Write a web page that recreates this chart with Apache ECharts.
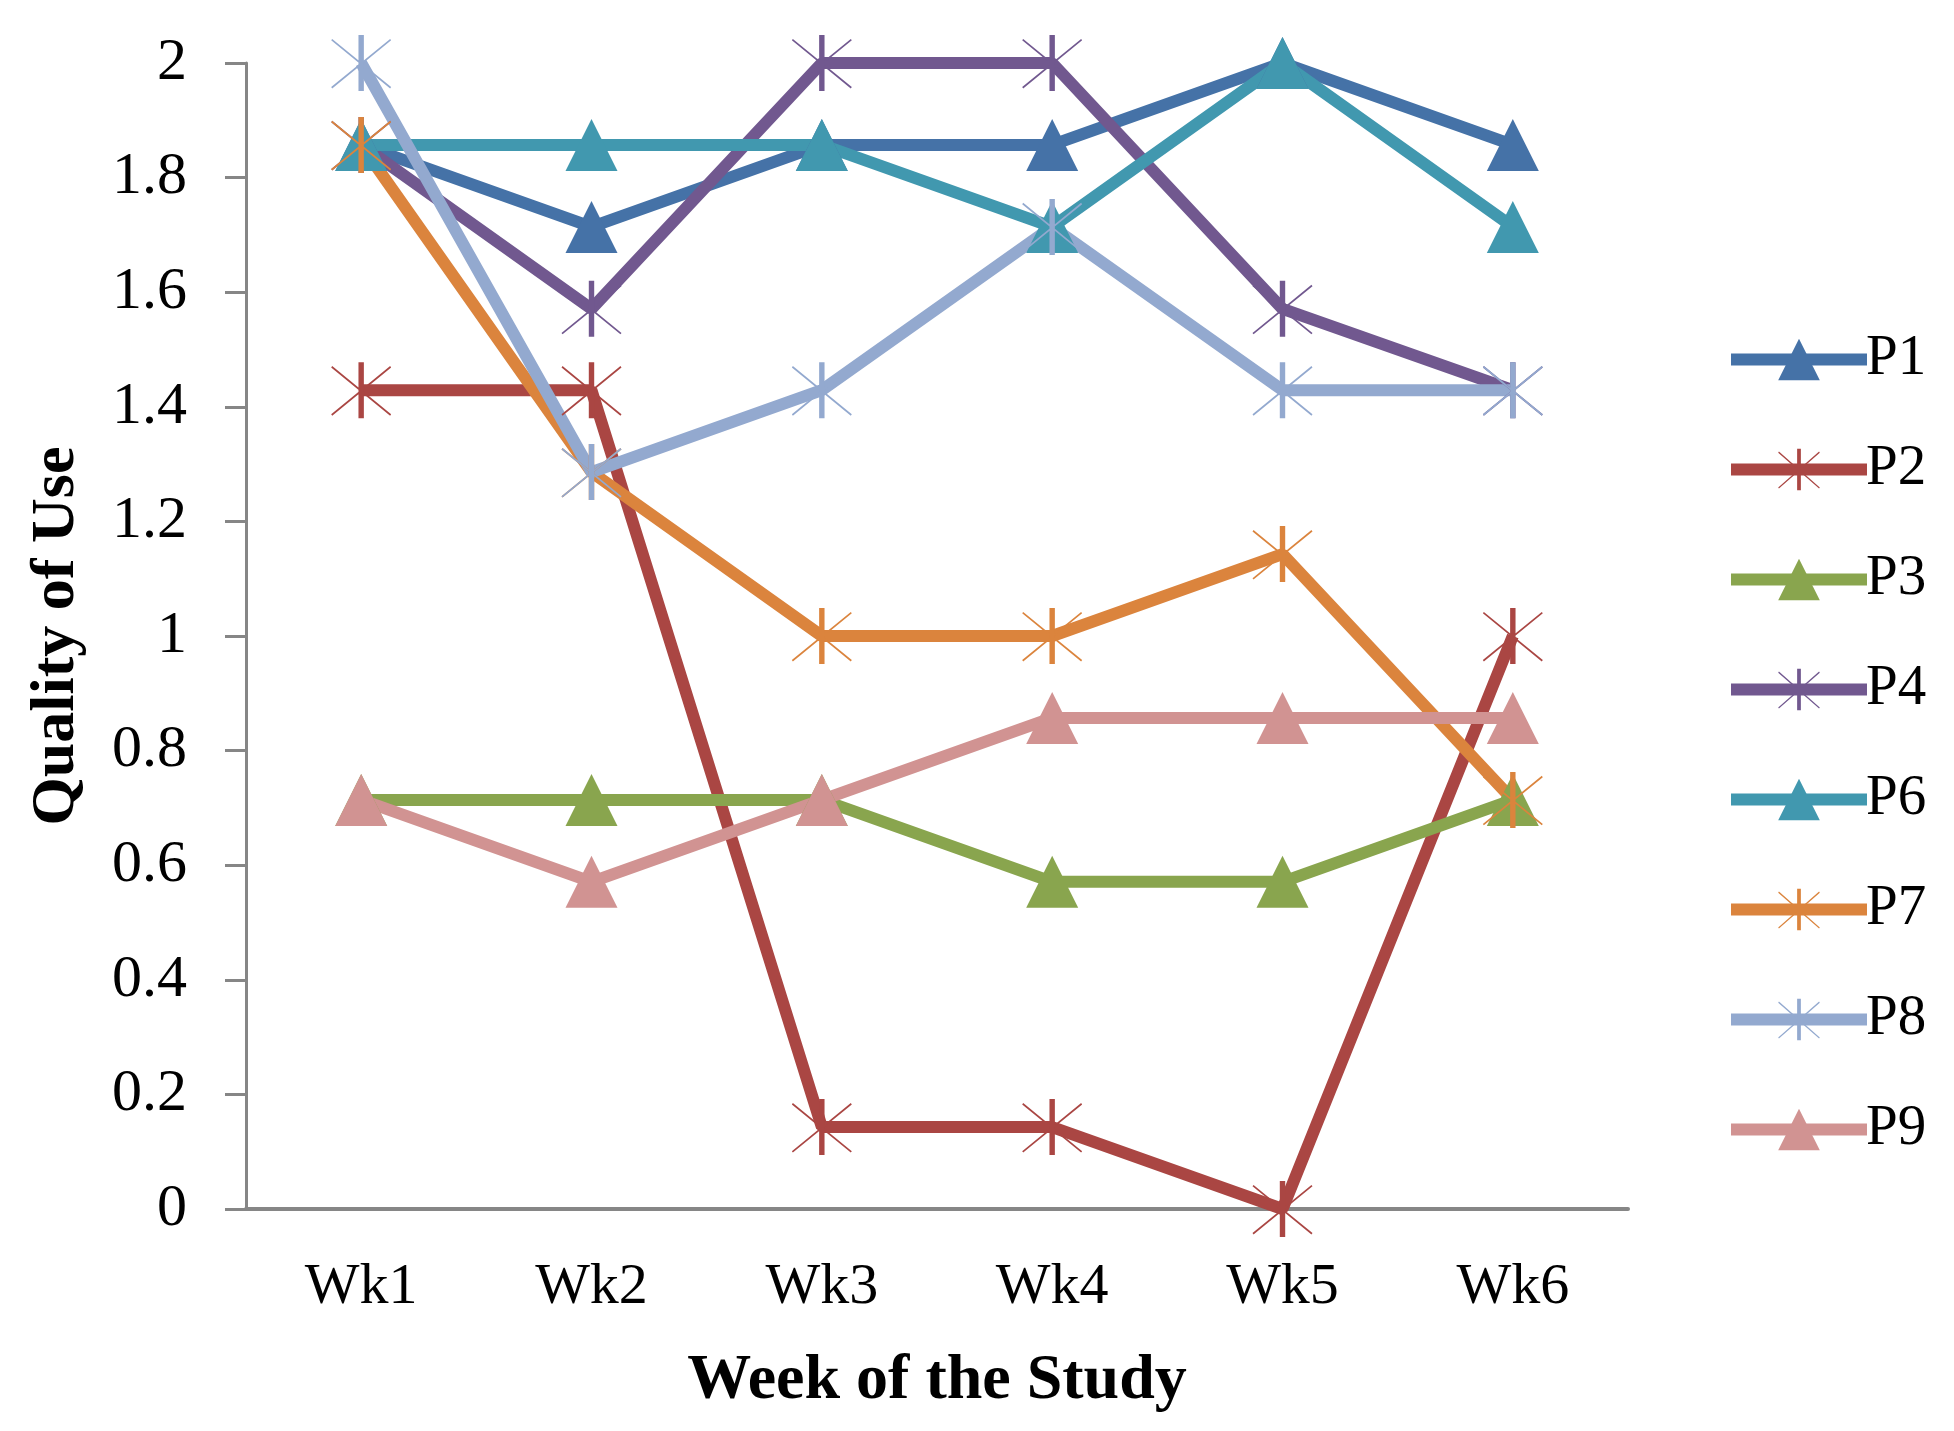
<!DOCTYPE html>
<html>
<head>
<meta charset="utf-8">
<script src="https://cdn.jsdelivr.net/npm/echarts@6/dist/echarts.min.js"></script>
<style>
  html, body { margin: 0; padding: 0; background: #fff; }
  #main { width: 1954px; height: 1431px; }
</style>
</head>
<body>
<div id="main"></div>
<script>
// weeks on x axis
var weeks = ['Wk1', 'Wk2', 'Wk3', 'Wk4', 'Wk5', 'Wk6'];
var names = ['P1', 'P2', 'P3', 'P4', 'P6', 'P7', 'P8', 'P9'];

// quality of use per participant (steps of 1/7)
var p1 = [1.857, 1.714, 1.857, 1.857, 2.000, 1.857];
var p2 = [1.429, 1.429, 0.143, 0.143, 0.000, 1.000];
var p3 = [0.714, 0.714, 0.714, 0.571, 0.571, 0.714];
var p4 = [1.857, 1.571, 2.000, 2.000, 1.571, 1.429];
var p6 = [1.857, 1.857, 1.857, 1.714, 2.000, 1.714];
var p7 = [1.857, 1.286, 1.000, 1.000, 1.143, 0.714];
var p8 = [2.000, 1.286, 1.429, 1.714, 1.429, 1.429];
var p9 = [0.714, 0.571, 0.714, 0.857, 0.857, 0.857];

var colors = ['#4572A7', '#AA4643', '#89A54E', '#71588F', '#4198AF', '#DB843D', '#93A9CF', '#D19392'];
// triangle or star marker per series
var marks = ['tri', 'star', 'tri', 'star', 'tri', 'star', 'star', 'tri'];

// asterisk: thick vertical bar + two thin diagonals
var starPath = 'path://M9.1,0L10.9,0L10.9,20L9.1,20Z' +
  'M0.35,1.4L20,18.6L19.65,19.1L0,1.9Z' +
  'M20,1.9L0.35,19.1L0,18.6L19.65,1.4Z';

var serif = '"Liberation Serif", "DejaVu Serif", serif';

var allData = [p1, p2, p3, p4, p6, p7, p8, p9];
var series = [];
for (var i = 0; i < names.length; i++) {
  var isStar = marks[i] == 'star';
  series.push({
    name: names[i],
    type: 'line',
    data: allData[i],
    symbol: isStar ? starPath : 'triangle',
    symbolSize: isStar ? [60, 56] : 52,
    showAllSymbol: true,
    lineStyle: { width: 12, color: colors[i] },
    itemStyle: { color: colors[i] },
    emphasis: { disabled: true },
    animation: false
  });
}

var chart = echarts.init(document.getElementById('main'));
chart.setOption({
  backgroundColor: '#fff',
  grid: { left: 246, right: 326, top: 63, bottom: 222, outerBoundsMode: 'none' },
  legend: {
    orient: 'vertical',
    left: 1720,
    top: 326,
    itemWidth: 136,
    itemHeight: 52,
    itemGap: 53,
    data: names,
    lineStyle: { width: 12 },
    textStyle: { fontFamily: serif, fontSize: 57, color: '#000', padding: [0, 0, 0, -6] }
  },
  xAxis: {
    type: 'category',
    data: weeks,
    boundaryGap: true,
    name: 'Week of the Study',
    nameLocation: 'middle',
    nameGap: 140,
    nameTextStyle: { fontFamily: serif, fontSize: 64, fontWeight: 'bold', color: '#000' },
    axisLine: { lineStyle: { color: '#868686', width: 4 } },
    axisTick: { show: false },
    axisLabel: { fontFamily: serif, fontSize: 58, color: '#000', margin: 50 }
  },
  yAxis: {
    type: 'value',
    min: 0,
    max: 2,
    interval: 0.2,
    name: 'Quality of Use',
    nameLocation: 'middle',
    nameGap: 158,
    nameRotate: 90,
    nameTextStyle: { fontFamily: serif, fontSize: 62, fontWeight: 'bold', color: '#000' },
    axisLine: { show: true, lineStyle: { color: '#868686', width: 3 } },
    axisTick: { show: true, length: 21, lineStyle: { color: '#868686', width: 3 } },
    splitLine: { show: false },
    axisLabel: { fontFamily: serif, fontSize: 60, color: '#000', margin: 59 }
  },
  series: series
});
</script>
</body>
</html>
